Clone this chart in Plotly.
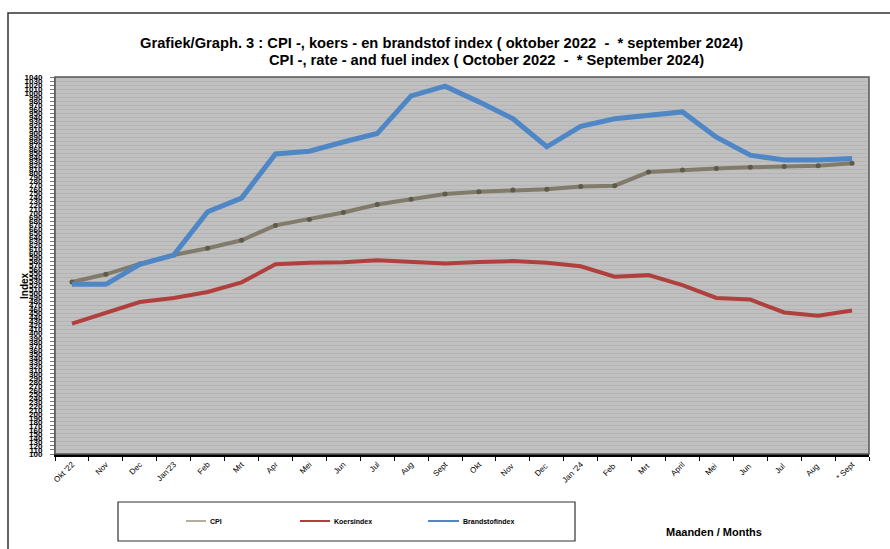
import plotly.graph_objects as go

months = ["Okt '22", "Nov", "Dec", "Jan'23", "Feb", "Mrt", "Apr", "Mei", "Jun", "Jul", "Aug", "Sept",
          "Okt", "Nov ", "Dec ", "Jan '24", "Feb ", "Mrt ", "April", "Mei ", "Jun ", "Jul ", "Aug ", "* Sept"]

cpi = [529, 548, 574, 596, 613, 633, 670, 685, 702, 722, 735, 748,
       754, 758, 760, 767, 769, 803, 808, 812, 815, 817, 819, 825]
koers = [425, 453, 479, 489, 504, 528, 573, 577, 578, 583, 579, 575,
         579, 581, 577, 568, 542, 546, 521, 489, 485, 453, 445, 458]
brandstof = [523, 523, 573, 596, 704, 738, 848, 855, 878, 899, 993, 1017,
             978, 936, 866, 917, 936, 943, 953, 890, 845, 833, 833, 837]

y_ticks = list(range(100, 1041, 10))

FONT = "Liberation Sans, Arial, sans-serif"

L, R, T, B = 55, 869, 77, 454
W, H = 890, 549


def px(x):
    return (x - L) / (R - L)


def py(y):
    return (B - y) / (B - T)


fig = go.Figure()
fig.add_trace(go.Scatter(x=months, y=cpi, mode="lines+markers", name="CPI",
                         line=dict(color="#807b6b", width=4),
                         marker=dict(color="#5e5a48", size=5)))
fig.add_trace(go.Scatter(x=months, y=koers, mode="lines", name="Koersindex",
                         line=dict(color="#b0403d", width=4)))
fig.add_trace(go.Scatter(x=months, y=brandstof, mode="lines", name="Brandstofindex",
                         line=dict(color="#4f86c6", width=5)))

shapes = [
    # outer chart border
    dict(type="rect", xref="paper", yref="paper", x0=px(8), x1=px(905), y0=py(560), y1=py(13),
         line=dict(color="#333333", width=1.5), layer="below"),
    # plot area border
    dict(type="rect", xref="paper", yref="paper", x0=0, x1=1, y0=0, y1=1,
         line=dict(color="#555555", width=1.5)),
    # legend box
    dict(type="rect", xref="paper", yref="paper", x0=px(118), x1=px(575), y0=py(541), y1=py(502),
         line=dict(color="#333333", width=1.2)),
]
legend_items = [("CPI", "#b3ada0", 186, 206), ("Koersindex", "#b0403d", 300, 330),
                ("Brandstofindex", "#4f86c6", 428, 459)]
annotations = []
for name, col, x0, x1 in legend_items:
    shapes.append(dict(type="line", xref="paper", yref="paper", x0=px(x0), x1=px(x1),
                       y0=py(521), y1=py(521), line=dict(color=col, width=2)))
    annotations.append(dict(text="<b>" + name + "</b>", xref="paper", yref="paper",
                            x=px(x1 + 2), y=py(521), xanchor="left", yanchor="middle",
                            showarrow=False, font=dict(family=FONT, size=7, color="black")))

annotations += [
    dict(text="<b>Grafiek/Graph. 3 : CPI -, koers - en brandstof index ( oktober 2022  -  * september 2024)</b>",
         xref="paper", yref="paper", x=px(441), y=py(43), xanchor="center", yanchor="middle",
         showarrow=False, font=dict(family=FONT, size=14.7, color="black")),
    dict(text="<b>CPI -, rate - and fuel index ( October 2022  -  * September 2024)</b>",
         xref="paper", yref="paper", x=px(486), y=py(60), xanchor="center", yanchor="middle",
         showarrow=False, font=dict(family=FONT, size=14.7, color="black")),
    dict(text="<b>Maanden / Months</b>", xref="paper", yref="paper", x=px(714), y=py(532),
         xanchor="center", yanchor="middle", showarrow=False,
         font=dict(family=FONT, size=11, color="black")),
    dict(text="<b>Index</b>", xref="paper", yref="paper", x=px(24), y=py(285), textangle=-90,
         xanchor="center", yanchor="middle", showarrow=False,
         font=dict(family=FONT, size=10, color="black")),
]

fig.update_layout(
    width=W, height=H,
    margin=dict(l=L, r=W - R, t=T, b=H - B, pad=0),
    paper_bgcolor="white",
    plot_bgcolor="#c0c0c0",
    showlegend=False,
    font=dict(family=FONT, color="black"),
    shapes=shapes,
    annotations=annotations,
)
fig.update_xaxes(type="category", range=[-0.5, 23.5], tickson="boundaries", ticks="outside",
                 ticklen=4, tickcolor="black", tickangle=-45, showgrid=False,
                 showline=True, linecolor="black", linewidth=2.5,
                 tickfont=dict(family=FONT, size=8, color="black"))
fig.update_yaxes(range=[100, 1040], tickvals=y_ticks, ticktext=["<b>%d</b>" % v for v in y_ticks],
                 ticks="outside", ticklen=4, tickcolor="#777777", showgrid=True,
                 ticklabelstandoff=6,
                 gridcolor="#b4b4b4", gridwidth=1, zeroline=False,
                 showline=True, linecolor="#777777", linewidth=1,
                 tickfont=dict(family=FONT, size=8, color="black"))

fig.write_html("out.html", config={"displayModeBar": False},
               post_script="document.body.style.margin='0';document.body.style.padding='0';")
